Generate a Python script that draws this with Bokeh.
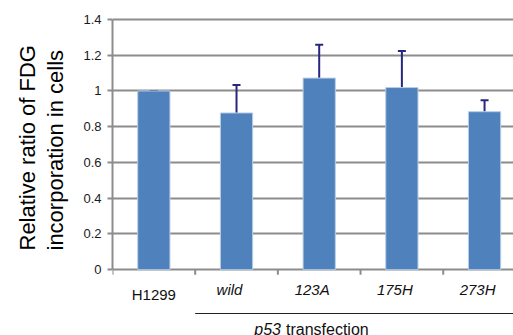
from bokeh.plotting import figure
from bokeh.models import (ColumnDataSource, Range1d, FixedTicker, NumeralTickFormatter,
                          Whisker, TeeHead, LabelSet, Label, Title)
from bokeh.core.properties import value
from bokeh.embed import file_html
from bokeh.resources import INLINE

categories = ["H1299", "wild", "123A", "175H", "273H"]
values = [1.0, 0.877, 1.072, 1.019, 0.884]
errors = [0.0, 0.156, 0.187, 0.204, 0.064]
y_ticks = [0, 0.2, 0.4, 0.6, 0.8, 1.0, 1.2, 1.4]
y_title = "Relative ratio of FDG\nincorporation in cells"
group_label = ("p53", "transfection")

xs = [i + 0.5 for i in range(len(categories))]
boundaries = list(range(len(categories) + 1))
src = ColumnDataSource(dict(
    x=xs, top=values,
    upper=[v + e for v, e in zip(values, errors)],
    lower=[v - e for v, e in zip(values, errors)],
))

FONT = "Liberation Sans"
GRID = "#8c8c8c"
TXT = "#111111"

p = figure(width=513, height=335, output_backend="svg", toolbar_location=None,
           x_axis_location=None,
           x_range=Range1d(0, 4.85), y_range=Range1d(-0.368, 1.506),
           min_border_left=112, min_border_right=0, min_border_top=0,
           min_border_bottom=0)
p.outline_line_color = None
p.background_fill_color = "white"
p.border_fill_color = "white"

p.xgrid.grid_line_color = None
p.ygrid.ticker = FixedTicker(ticks=y_ticks)
p.ygrid.grid_line_color = GRID
p.ygrid.grid_line_width = 2

# x-axis boundary ticks (pointing down from zero)
p.segment(x0=boundaries, y0=[0] * len(boundaries), x1=boundaries,
          y1=[-0.028] * len(boundaries), line_color=GRID, line_width=2)

p.vbar(x="x", top="top", bottom=0, width=0.39, source=src,
       fill_color="#4f81bd", line_color="#b9cde5", line_width=1)

err_color = "#27277f"
p.add_layout(Whisker(base="x", upper="upper", lower="lower", source=src,
                     line_color=err_color, line_width=2,
                     upper_head=TeeHead(size=8, line_color=err_color, line_width=2),
                     lower_head=TeeHead(size=8, line_color=err_color, line_width=2)))

# y axis
yax = p.yaxis[0]
yax.bounds = (0, 1.4)
yax.ticker = FixedTicker(ticks=y_ticks)
yax.formatter = NumeralTickFormatter(format="0.[0]")
yax.major_label_text_font = FONT
yax.major_label_text_font_size = "13px"
yax.major_label_text_color = "#1a1a1a"
yax.major_tick_out = 5
yax.major_tick_in = 0
yax.minor_tick_out = 0
yax.minor_tick_in = 0
yax.major_label_standoff = 6
yax.axis_line_color = GRID
yax.axis_line_width = 2
yax.major_tick_line_color = GRID
yax.major_tick_line_width = 2

# y title as a left title (multi-line)
p.add_layout(Title(text=y_title, align="left", offset=85, standoff=26,
                   text_font=FONT, text_font_size="22px", text_font_style="normal",
                   text_color="#000000", text_line_height=1.09), "left")

# category labels
src_first = ColumnDataSource(dict(x=xs[:1], y=[-0.138], t=categories[:1]))
src_rest = ColumnDataSource(dict(x=xs[1:], y=[-0.11] * (len(xs) - 1), t=categories[1:]))
p.add_layout(LabelSet(x="x", y="y", text="t", source=src_first,
                      text_font=value(FONT), text_font_size=value("15px"), text_color=TXT,
                      text_align="center", text_baseline="middle"))
p.add_layout(LabelSet(x="x", y="y", text="t", source=src_rest, x_offset=-7,
                      text_font=value(FONT), text_font_size=value("15px"),
                      text_font_style=value("italic"),
                      text_color=TXT, text_align="center", text_baseline="middle"))

# group bracket line and label
p.segment(x0=[boundaries[1]], y0=[-0.245], x1=[4.85], y1=[-0.245],
          line_color="#222222", line_width=1)
p.add_layout(Label(x=2.05, y=-0.334, text=group_label[0], x_offset=-1,
                   text_font=FONT, text_font_size="16px", text_font_style="italic",
                   text_color=TXT, text_align="right", text_baseline="middle"))
p.add_layout(Label(x=2.05, y=-0.334, text=group_label[1], x_offset=4,
                   text_font=FONT, text_font_size="16px",
                   text_color=TXT, text_align="left", text_baseline="middle"))

open("out.html", "w").write(file_html(p, INLINE))
